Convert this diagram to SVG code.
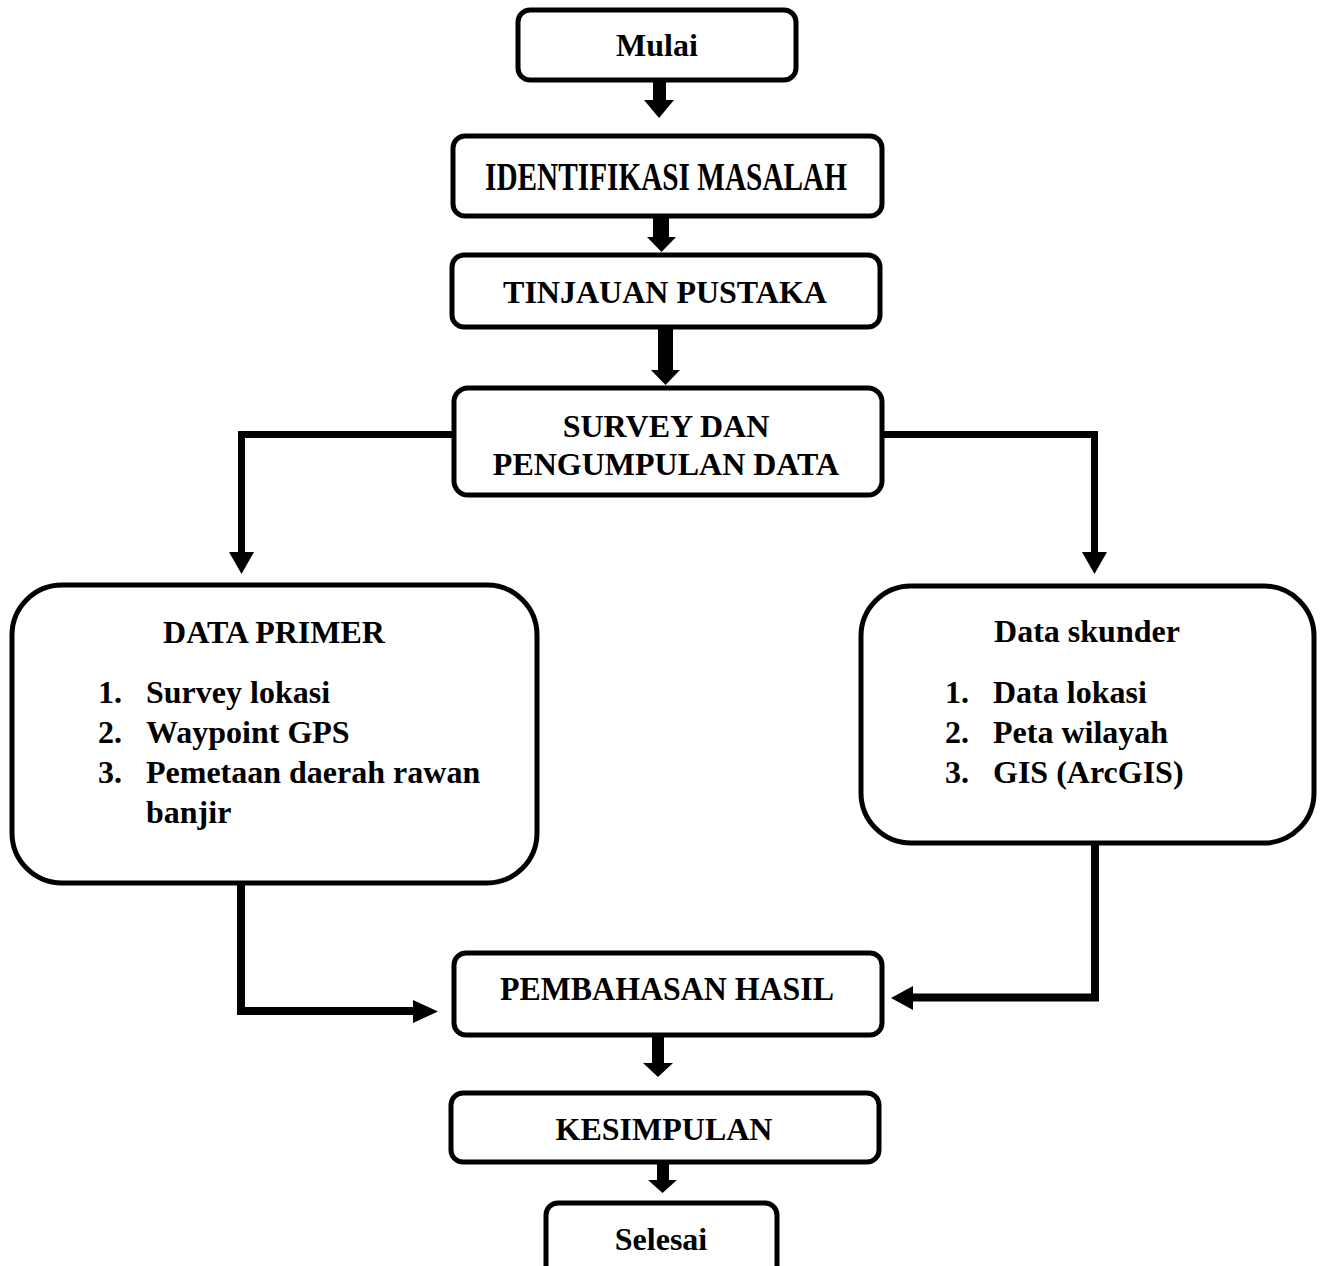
<svg xmlns="http://www.w3.org/2000/svg" width="1324" height="1266" viewBox="0 0 1324 1266">
<style>
  .box{fill:#fff;stroke:#000;stroke-width:5}
  .t{font-family:"Liberation Serif","Times New Roman",serif;font-weight:bold;font-size:32px;fill:#000}
  .c{text-anchor:middle}
  .ln{fill:none;stroke:#000;stroke-width:7;stroke-linejoin:miter}
  .hd{fill:#000;stroke:none}
</style>
<rect width="1324" height="1266" fill="#fff"/>
<g id="connectors">
  <rect class="hd" x="653" y="80" width="13" height="21"/>
  <polygon class="hd" points="644,100 674,100 659,118"/>
  <rect class="hd" x="653" y="216" width="16" height="22"/>
  <polygon class="hd" points="647,237 676,237 661.5,252"/>
  <rect class="hd" x="658" y="327" width="15" height="44"/>
  <polygon class="hd" points="651,370 680,370 665.5,385"/>
  <path class="ln" d="M453,434.5 H241.5 V554"/>
  <polygon class="hd" points="229,552 254,552 241.5,574"/>
  <path class="ln" d="M882,434.5 H1094.5 V554"/>
  <polygon class="hd" points="1082,552 1107,552 1094.5,574"/>
  <path class="ln" d="M241,878 V1011 H415" style="stroke-width:8"/>
  <polygon class="hd" points="413,1000 413,1023 438,1011.5"/>
  <path class="ln" d="M1095,843 V997.5 H911" style="stroke-width:8"/>
  <polygon class="hd" points="913,986 913,1010 891,998"/>
  <rect class="hd" x="652" y="1036" width="12" height="28"/>
  <polygon class="hd" points="643,1063 673,1063 658,1077"/>
  <rect class="hd" x="657" y="1162" width="12" height="19"/>
  <polygon class="hd" points="648,1180 677,1180 662.5,1193"/>
</g>
<g id="mulai">
  <rect class="box" x="518" y="10" width="278" height="70" rx="12"/>
  <text class="t c" x="657" y="56">Mulai</text>
</g>
<g id="identifikasi">
  <rect class="box" x="453" y="136" width="429" height="80" rx="12"/>
  <text class="t" x="485" y="190" style="font-size:39px" textLength="362" lengthAdjust="spacingAndGlyphs">IDENTIFIKASI MASALAH</text>
</g>
<g id="tinjauan">
  <rect class="box" x="452" y="255" width="428" height="72" rx="12"/>
  <text class="t c" x="665" y="303">TINJAUAN PUSTAKA</text>
</g>
<g id="survey">
  <rect class="box" x="454" y="388" width="428" height="107" rx="14"/>
  <text class="t c" x="666" y="437">SURVEY DAN</text>
  <text class="t c" x="666" y="475">PENGUMPULAN DATA</text>
</g>
<g id="data-primer">
  <rect class="box" x="12" y="585" width="525" height="298" rx="50"/>
  <text class="t c" x="274" y="643">DATA PRIMER</text>
  <text class="t" x="98" y="703">1.</text><text class="t" x="146" y="703">Survey lokasi</text>
  <text class="t" x="98" y="743">2.</text><text class="t" x="146" y="743">Waypoint GPS</text>
  <text class="t" x="98" y="783">3.</text><text class="t" x="146" y="783">Pemetaan daerah rawan</text>
  <text class="t" x="146" y="823">banjir</text>
</g>
<g id="data-skunder">
  <rect class="box" x="861" y="586" width="453" height="257" rx="50"/>
  <text class="t c" x="1087" y="642">Data skunder</text>
  <text class="t" x="945" y="703">1.</text><text class="t" x="993" y="703">Data lokasi</text>
  <text class="t" x="945" y="743">2.</text><text class="t" x="993" y="743">Peta wilayah</text>
  <text class="t" x="945" y="783">3.</text><text class="t" x="993" y="783">GIS (ArcGIS)</text>
</g>
<g id="pembahasan">
  <rect class="box" x="454" y="953" width="428" height="82" rx="12"/>
  <text class="t" x="500" y="1000" style="font-size:34px" textLength="334" lengthAdjust="spacingAndGlyphs">PEMBAHASAN HASIL</text>
</g>
<g id="kesimpulan">
  <rect class="box" x="451" y="1093" width="428" height="69" rx="12"/>
  <text class="t c" x="664" y="1140">KESIMPULAN</text>
</g>
<g id="selesai">
  <rect class="box" x="546" y="1203" width="231" height="80" rx="12"/>
  <text class="t c" x="661" y="1250">Selesai</text>
</g>
</svg>
